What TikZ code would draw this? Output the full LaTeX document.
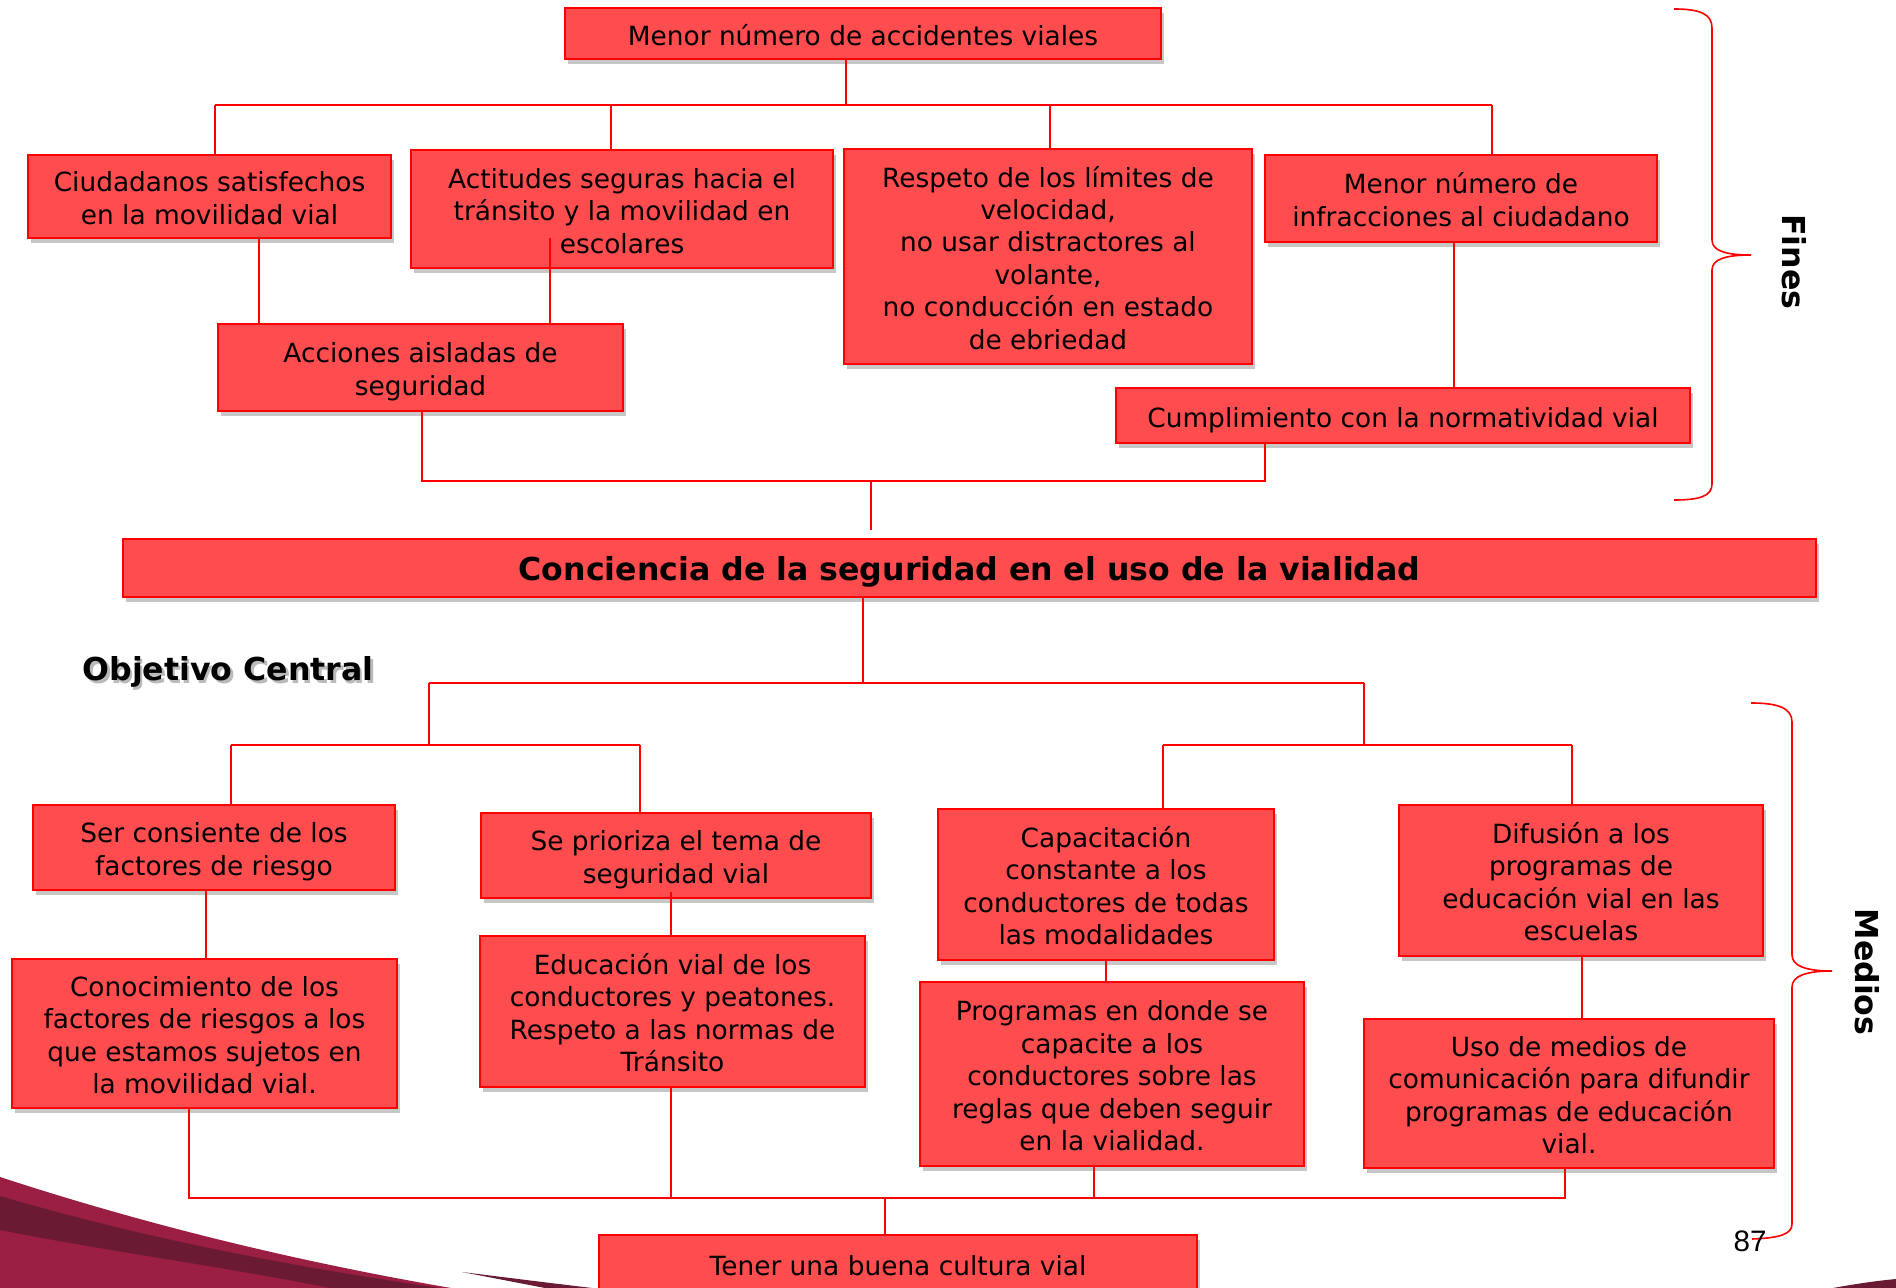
\documentclass[tikz,border=0pt]{standalone}
\usepackage{fontspec}
\setmainfont{DejaVu Sans}
\newfontfamily\arialfont{Liberation Sans}
\usetikzlibrary{shadows}
\definecolor{boxfill}{HTML}{FF4D4F}
\definecolor{boxline}{HTML}{FF0000}
\definecolor{crimson}{HTML}{9B1F42}
\definecolor{darkmaroon}{HTML}{6A1A32}
\newcommand\sttop{\rule{0pt}{1.24em}}
\newcommand\stbot{\rule[-0.36em]{0pt}{0.36em}}
\begin{document}
\begin{tikzpicture}[x=0.5pt,y=-0.5pt,
  box/.style={draw=boxline, line width=1.2pt, fill=boxfill, inner sep=0pt, align=center,
    font=\fontsize{13.2}{16.2}\selectfont, text=black,
    drop shadow={shadow xshift=1.5pt, shadow yshift=-2.5pt, opacity=0.22, fill=black}},
  sz/.style 2 args={minimum width=#1*0.5pt, minimum height=#2*0.5pt},
  ln/.style={draw=boxline, line width=1pt},
  brc/.style={draw=boxline, line width=0.8pt},
  lbl/.style={font=\bfseries\fontsize{15.8}{19}\selectfont, inner sep=0pt, text=black}]
\useasboundingbox (0,0) rectangle (1896,1288);
\fill[white] (0,0) rectangle (1896,1288);

% decoration bottom-left
\fill[crimson] (0,1177) .. controls (150,1226) and (300,1262) .. (451,1288) -- (0,1288) -- cycle;
\fill[darkmaroon] (0,1196) .. controls (150,1240) and (300,1268) .. (440,1288) -- (330,1288) .. controls (220,1266) and (100,1250) .. (0,1230) -- cycle;
\fill[darkmaroon] (462,1272) .. controls (510,1278) and (550,1283) .. (592,1288) -- (545,1288) -- cycle;
\fill[darkmaroon] (1833,1288) .. controls (1855,1284) and (1875,1281) .. (1896,1279) -- (1896,1288) -- cycle;

% fines
\node[box, sz={596}{51}] (T) at (863,33.5) {\sttop Menor número de accidentes viales\stbot};
\node[box, sz={363}{83}] (A) at (209.5,196.5) {\sttop Ciudadanos satisfechos\\en la movilidad vial\stbot};
\node[box, sz={422}{118}] (B) at (622,209) {\sttop Actitudes seguras hacia el\\tránsito y la movilidad en\\escolares\stbot};
\node[box, sz={408}{215}] (C) at (1048,256.5) {\sttop Respeto de los límites de\\velocidad,\\no usar distractores al\\volante,\\no conducción en estado\\de ebriedad\stbot};
\node[box, sz={392}{87}] (D) at (1461,198.5) {\sttop Menor número de\\infracciones al ciudadano\stbot};
\node[box, sz={405}{87}] (E) at (420.5,367.5) {\sttop Acciones aisladas de\\seguridad\stbot};
\node[box, sz={574}{55}] (F) at (1403,415.5) {\sttop Cumplimiento con la normatividad vial\stbot};

% central
\node[box, sz={1693}{58}, font=\bfseries\fontsize{15.8}{19}\selectfont] (G) at (969.5,568) {\rule{0pt}{1.15em}Conciencia de la seguridad en el uso de la vialidad\stbot};
\node[lbl, text=black!45, opacity=0.6] (objsh) at (230.5,674.5) {Objetivo Central};
\node[lbl] (obj) at (228,671.5) {Objetivo Central};

% medios
\node[box, sz={362}{85}] (H) at (214,847.5) {\sttop Ser consiente de los\\factores de riesgo\stbot};
\node[box, sz={390}{85}] (I) at (676,855.5) {\sttop Se prioriza el tema de\\seguridad vial\stbot};
\node[box, sz={336}{151}] (J) at (1106,884.5) {\sttop Capacitación\\constante a los\\conductores de todas\\las modalidades\stbot};
\node[box, sz={364}{151}] (K) at (1581,880.5) {\sttop Difusión a los\\programas de\\educación vial en las\\escuelas\stbot};
\node[box, sz={385}{149}] (L) at (204.5,1033.5) {\sttop Conocimiento de los\\factores de riesgos a los\\que estamos sujetos en\\la movilidad vial.\stbot};
\node[box, sz={385}{151}] (M) at (672.5,1011.5) {\sttop Educación vial de los\\conductores y peatones.\\Respeto a las normas de\\Tránsito\stbot};
\node[box, sz={384}{184}] (N) at (1112,1074) {\sttop Programas en donde se\\capacite a los\\conductores sobre las\\reglas que deben seguir\\en la vialidad.\stbot};
\node[box, sz={410}{149}] (O) at (1569,1093.5) {\sttop Uso de medios de\\comunicación para difundir\\programas de educación\\vial.\stbot};
\node[box, sz={598}{58}] (P) at (898,1264) {\sttop Tener una buena cultura vial\stbot};

% junction coordinates
\coordinate (t0) at (846,105);
\coordinate (tA) at (215,105);
\coordinate (tB) at (611,105);
\coordinate (tC) at (1050,105);
\coordinate (tD) at (1492,105);
\coordinate (ae) at (259,0);
\coordinate (be) at (550,238);
\coordinate (df) at (1454,0);
\coordinate (eb) at (422,481);
\coordinate (fb) at (1265,481);
\coordinate (gb) at (871,481);
\coordinate (gc) at (871,530);
\coordinate (g0) at (863,683);
\coordinate (gl) at (429,683);
\coordinate (gr) at (1364,683);
\coordinate (ll) at (429,745);
\coordinate (lH) at (231,745);
\coordinate (lI) at (640,745);
\coordinate (rr) at (1364,745);
\coordinate (rJ) at (1163,745);
\coordinate (rK) at (1572,745);
\coordinate (hl) at (206,0);
\coordinate (im) at (671,892);
\coordinate (jn) at (1106,0);
\coordinate (ko) at (1582,0);
\coordinate (bL) at (189,1198);
\coordinate (bM) at (671,1198);
\coordinate (bN) at (1094,1198);
\coordinate (bO) at (1565,1198);
\coordinate (bP) at (885,1198);

% connectors fines
\draw[ln] (T.south -| t0) -- (t0);
\draw[ln] (tA) -- (tD);
\draw[ln] (tA) -- (A.north -| tA);
\draw[ln] (tB) -- (B.north -| tB);
\draw[ln] (tC) -- (C.north -| tC);
\draw[ln] (tD) -- (D.north -| tD);
\draw[ln] (A.south -| ae) -- (E.north -| ae);
\draw[ln] (be) -- (E.north -| be);
\draw[ln] (D.south -| df) -- (F.north -| df);
\draw[ln] (E.south -| eb) -- (eb) -- (fb) -- (F.south -| fb);
\draw[ln] (gb) -- (gc);

% connectors medios
\draw[ln] (G.south -| g0) -- (g0);
\draw[ln] (gl) -- (gr);
\draw[ln] (gl) -- (ll);
\draw[ln] (gr) -- (rr);
\draw[ln] (lH) -- (lI);
\draw[ln] (lH) -- (H.north -| lH);
\draw[ln] (lI) -- (I.north -| lI);
\draw[ln] (rJ) -- (rK);
\draw[ln] (rJ) -- (J.north -| rJ);
\draw[ln] (rK) -- (K.north -| rK);
\draw[ln] (H.south -| hl) -- (L.north -| hl);
\draw[ln] (im) -- (M.north -| im);
\draw[ln] (J.south -| jn) -- (N.north -| jn);
\draw[ln] (K.south -| ko) -- (O.north -| ko);
\draw[ln] (L.south -| bL) -- (bL) -- (bO) -- (O.south -| bO);
\draw[ln] (M.south -| bM) -- (bM);
\draw[ln] (N.south -| bN) -- (bN);
\draw[ln] (bP) -- (P.north -| bP);

% braces
\draw[brc] (1674,9) .. controls (1700,9) and (1712,14) .. (1712,28) -- (1712,240)
  .. controls (1712,251) and (1726,255) .. (1751,255)
  .. controls (1726,255) and (1712,259) .. (1712,270) -- (1712,484)
  .. controls (1712,496) and (1700,500) .. (1674,500);
\node[lbl, rotate=-90] (fines) at (1794,262) {Fines};

\draw[brc] (1751,703) .. controls (1778,703) and (1792,708) .. (1792,722) -- (1792,955)
  .. controls (1792,966) and (1806,971) .. (1832,971)
  .. controls (1806,971) and (1792,976) .. (1792,987) -- (1792,1224)
  .. controls (1792,1234) and (1780,1238) .. (1752,1239);
\node[lbl, rotate=-90] (medios) at (1867,972) {Medios};

\node[font=\arialfont\fontsize{14.8}{17}\selectfont, inner sep=0pt] (pg) at (1750,1241) {87};
\end{tikzpicture}
\end{document}
